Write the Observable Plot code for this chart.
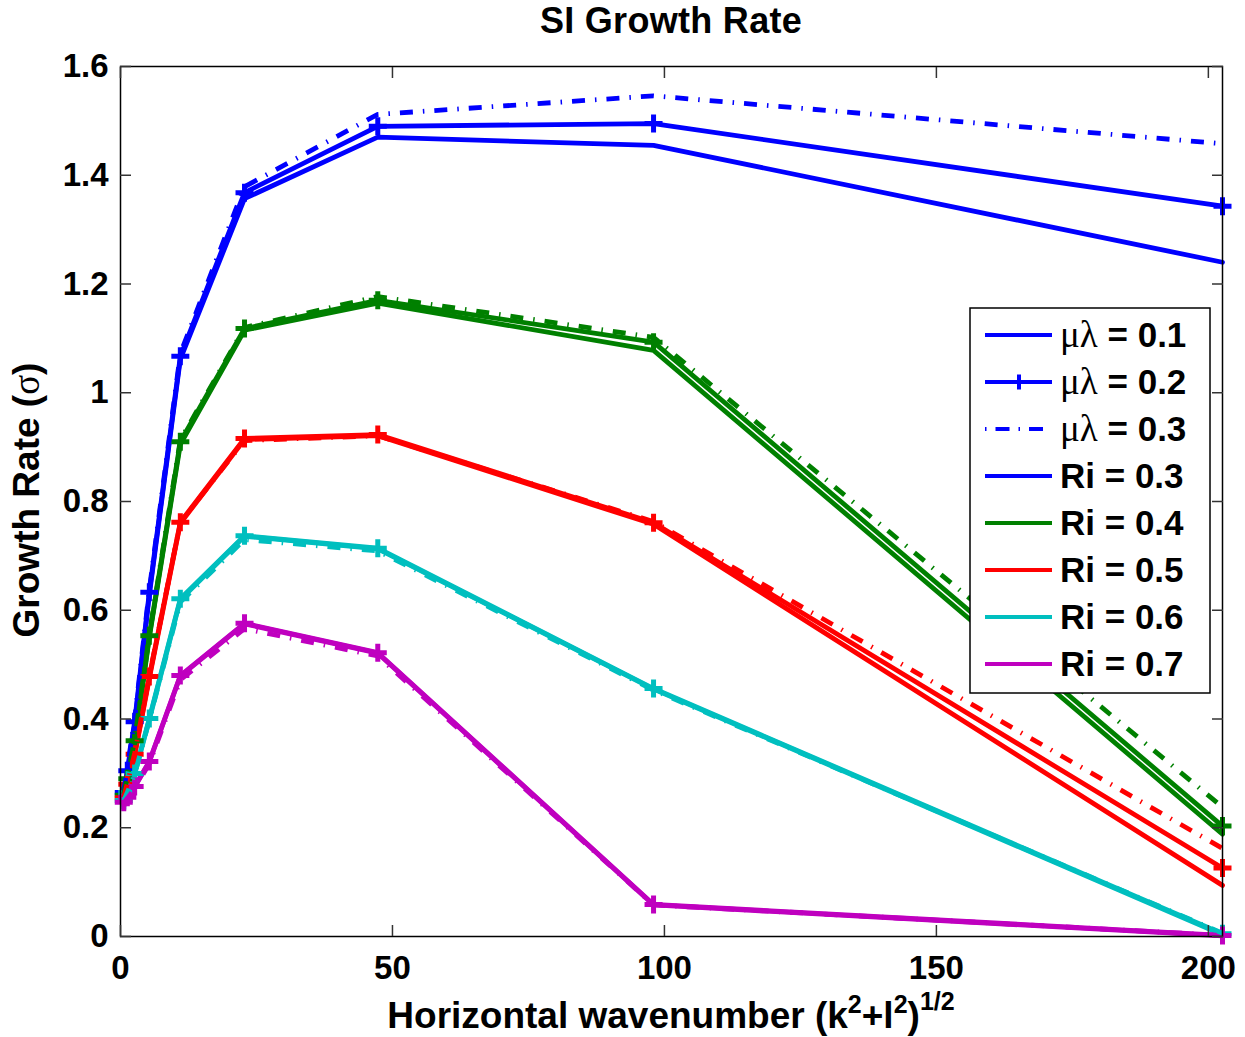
<!DOCTYPE html>
<html>
<head>
<meta charset="utf-8">
<script src="https://cdn.jsdelivr.net/npm/d3@7"></script>
<script src="https://cdn.jsdelivr.net/npm/@observablehq/plot@0.6"></script>
<style>
  body { margin: 0; background: #fff; }
  #fig { position: relative; width: 1245px; height: 1037px; }
  #title {
    height: 44px; line-height: 48px; margin-left: 120px; width: 1102px;
    text-align: center; font: bold 36px "Liberation Sans", Arial, sans-serif; color: #000;
    letter-spacing: 0.3px;
  }
  #chart svg { display: block; }
</style>
</head>
<body>
<div id="fig">
  <div id="title">SI Growth Rate</div>
  <div id="chart"></div>
</div>
<script>
// Horizontal wavenumbers at which the growth rate was computed
const wavenumber = [0.6, 1.25, 2.6, 5.3, 11.0, 22.8, 47.3, 98.0, 202.6];

const riValues = [0.3, 0.4, 0.5, 0.6, 0.7];
const riColors = ["#0000ff", "#008000", "#ff0000", "#00bfbf", "#bf00bf"];
const muLambdaValues = [0.1, 0.2, 0.3];
const xTicks = [0, 50, 100, 150, 200];
const yTicks = [0, 0.2, 0.4, 0.6, 0.8, 1.0, 1.2, 1.4, 1.6];

// Growth rate sigma, μλ = 0.1 (solid line)
const mu01_ri03 = [0.262, 0.300, 0.390, 0.628, 1.062, 1.357, 1.470, 1.455, 1.240];
const mu01_ri04 = [0.258, 0.287, 0.355, 0.550, 0.905, 1.115, 1.165, 1.078, 0.188];
const mu01_ri05 = [0.253, 0.278, 0.333, 0.475, 0.760, 0.914, 0.921, 0.758, 0.094];
const mu01_ri06 = [0.249, 0.264, 0.298, 0.399, 0.619, 0.736, 0.713, 0.455, 0.003];
const mu01_ri07 = [0.246, 0.255, 0.275, 0.321, 0.479, 0.575, 0.521, 0.058, 0.001];

// Growth rate sigma, μλ = 0.2 (solid line with + markers)
const mu02_ri03 = [0.265, 0.305, 0.395, 0.633, 1.067, 1.368, 1.490, 1.495, 1.343];
const mu02_ri04 = [0.260, 0.290, 0.360, 0.553, 0.910, 1.118, 1.170, 1.093, 0.203];
const mu02_ri05 = [0.255, 0.280, 0.335, 0.478, 0.762, 0.916, 0.923, 0.761, 0.126];
const mu02_ri06 = [0.250, 0.265, 0.300, 0.401, 0.621, 0.737, 0.714, 0.456, 0.005];
const mu02_ri07 = [0.247, 0.256, 0.276, 0.322, 0.480, 0.576, 0.522, 0.059, 0.002];

// Growth rate sigma, μλ = 0.3 (dash-dot line)
const mu03_ri03 = [0.268, 0.310, 0.400, 0.638, 1.072, 1.379, 1.512, 1.546, 1.458];
const mu03_ri04 = [0.262, 0.293, 0.362, 0.556, 0.913, 1.120, 1.177, 1.102, 0.238];
const mu03_ri05 = [0.256, 0.281, 0.337, 0.479, 0.762, 0.912, 0.921, 0.763, 0.162];
const mu03_ri06 = [0.250, 0.265, 0.298, 0.398, 0.615, 0.730, 0.709, 0.453, 0.006];
const mu03_ri07 = [0.246, 0.254, 0.272, 0.318, 0.472, 0.566, 0.516, 0.058, 0.002];

const growth = [
  [mu01_ri03, mu01_ri04, mu01_ri05, mu01_ri06, mu01_ri07],
  [mu02_ri03, mu02_ri04, mu02_ri05, mu02_ri06, mu02_ri07],
  [mu03_ri03, mu03_ri04, mu03_ri05, mu03_ri06, mu03_ri07]
];

// Long-form table: one row per (μλ, Ri, wavenumber)
const rows = [];
muLambdaValues.forEach((mu, j) => {
  riValues.forEach((ri, i) => {
    growth[j][i].forEach((s, n) => rows.push({k: wavenumber[n], sigma: s, ri: String(ri), mu}));
  });
});

const dashDot = "13,10,1.5,10";
const lineWidth = 4.8;

// "+" marker drawn as two strokes
const plusSymbol = {
  draw(ctx, size) {
    const r = Math.sqrt(size / Math.PI);
    ctx.moveTo(-r, 0); ctx.lineTo(r, 0);
    ctx.moveTo(0, -r); ctx.lineTo(0, r);
  }
};

const fmtY = d => String(+d.toFixed(1));

const chart = Plot.plot({
  width: 1245,
  height: 993,
  marginTop: 22,
  marginBottom: 101,
  marginLeft: 120,
  marginRight: 23,
  style: {fontFamily: "'Liberation Sans', Arial, sans-serif", fontSize: "33px", fontWeight: "bold", color: "#000", background: "#fff"},
  x: {domain: [0, 202.6]},
  y: {domain: [0, 1.6]},
  color: {type: "ordinal", domain: riValues.map(String), range: riColors},
  marks: [
    Plot.line(rows.filter(d => d.mu === 0.1), {x: "k", y: "sigma", z: "ri", stroke: "ri", strokeWidth: lineWidth, strokeLinejoin: "miter"}),
    Plot.line(rows.filter(d => d.mu === 0.2), {x: "k", y: "sigma", z: "ri", stroke: "ri", strokeWidth: lineWidth, strokeLinejoin: "miter"}),
    Plot.dot(rows.filter(d => d.mu === 0.2), {x: "k", y: "sigma", stroke: "ri", fill: "none", symbol: plusSymbol, r: 9, strokeWidth: 5}),
    Plot.line(rows.filter(d => d.mu === 0.3), {x: "k", y: "sigma", z: "ri", stroke: "ri", strokeWidth: lineWidth, strokeDasharray: dashDot, strokeLinecap: "butt"}),
    Plot.frame({stroke: "#000", strokeWidth: 1.5}),
    Plot.axisX({anchor: "bottom", ticks: xTicks, tickSize: -11, tickPadding: 30, label: null, stroke: "#333", strokeWidth: 1.5}),
    Plot.axisX({anchor: "top", ticks: xTicks, tickSize: -11, tickFormat: () => "", label: null, stroke: "#333", strokeWidth: 1.5}),
    Plot.axisY({anchor: "left", ticks: yTicks, tickSize: -11, tickPadding: 23, tickFormat: fmtY, label: null, stroke: "#333", strokeWidth: 1.5}),
    Plot.axisY({anchor: "right", ticks: yTicks, tickSize: -11, tickFormat: () => "", label: null, stroke: "#333", strokeWidth: 1.5})
  ]
});

document.getElementById("chart").appendChild(chart);

const svg = d3.select(chart);
const sans = "'Liberation Sans', Arial, sans-serif";
const serif = "'Liberation Serif', 'Times New Roman', serif";

// x axis title with superscripts
const xl = svg.append("text")
  .attr("x", 671).attr("y", 984)
  .attr("text-anchor", "middle")
  .attr("font-family", sans).attr("font-size", 37).attr("font-weight", "bold").attr("fill", "#000");
xl.append("tspan").text("Horizontal wavenumber (k");
xl.append("tspan").attr("dy", -15).attr("font-size", 25).text("2");
xl.append("tspan").attr("dy", 15).text("+l");
xl.append("tspan").attr("dy", -15).attr("font-size", 25).text("2");
xl.append("tspan").attr("dy", 15).text(")");
xl.append("tspan").attr("dy", -18).attr("font-size", 25).text("1/2");

// y axis title
const yl = svg.append("text")
  .attr("transform", "translate(39,456) rotate(-90)")
  .attr("text-anchor", "middle")
  .attr("font-family", sans).attr("font-size", 37).attr("font-weight", "bold").attr("fill", "#000");
yl.append("tspan").text("Growth Rate (");
yl.append("tspan").attr("font-family", serif).attr("font-weight", "normal").text("σ");
yl.append("tspan").text(")");

// legend
const legendItems = [
  {sym: "μλ", label: " = 0.1", color: riColors[0], kind: "solid"},
  {sym: "μλ", label: " = 0.2", color: riColors[0], kind: "plus"},
  {sym: "μλ", label: " = 0.3", color: riColors[0], kind: "dashdot"},
  ...riValues.map((ri, i) => ({sym: null, label: `Ri = ${ri}`, color: riColors[i], kind: "solid"}))
];
const lg = svg.append("g");
lg.append("rect").attr("x", 970).attr("y", 264).attr("width", 240).attr("height", 385)
  .attr("fill", "#fff").attr("stroke", "#000").attr("stroke-width", 1.5);
legendItems.forEach((it, i) => {
  const y = 291 + 47 * i;
  lg.append("line").attr("x1", 985).attr("x2", 1052).attr("y1", y).attr("y2", y)
    .attr("stroke", it.color).attr("stroke-width", 4)
    .attr("stroke-dasharray", it.kind === "dashdot" ? "1.5,9,14,9" : null);
  if (it.kind === "plus") {
    lg.append("path").attr("d", `M1011.5,${y}h15M1019,${y - 7.5}v15`)
      .attr("stroke", it.color).attr("stroke-width", 4);
  }
  const t = lg.append("text").attr("x", 1060).attr("y", y + 12)
    .attr("text-anchor", "start")
    .attr("font-family", sans).attr("font-size", 35).attr("font-weight", "bold").attr("fill", "#000");
  if (it.sym) {
    t.append("tspan").attr("font-family", serif).attr("font-weight", "normal").attr("font-size", 37).text(it.sym);
  }
  t.append("tspan").attr("xml:space", "preserve").style("white-space", "pre").text(it.label);
});
</script>
</body>
</html>
